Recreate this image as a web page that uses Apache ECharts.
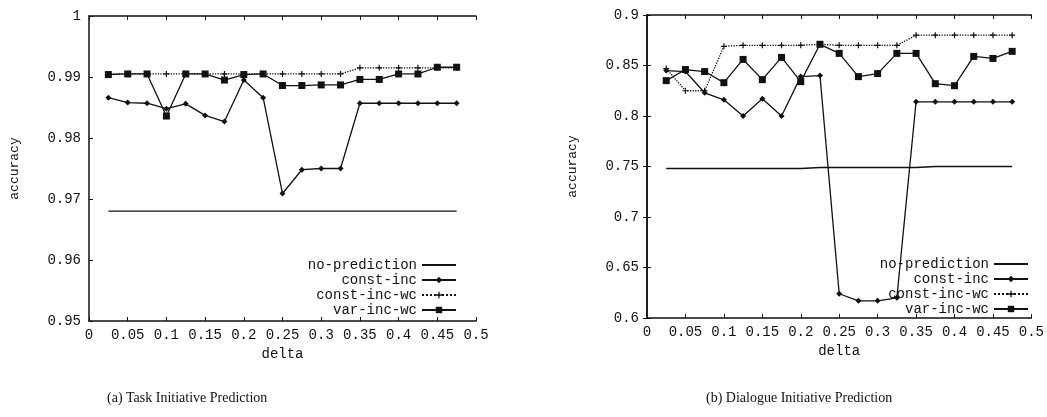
<!DOCTYPE html>
<html>
<head>
<meta charset="utf-8">
<script src="https://cdn.jsdelivr.net/npm/echarts@6/dist/echarts.min.js"></script>
<style>
  html, body { margin: 0; padding: 0; background: #fff; }
  #main { width: 1047px; height: 417px; }
</style>
</head>
<body>
<div id="main"></div>
<script>
// x values (delta)
var delta = [0.025, 0.05, 0.075, 0.1, 0.125, 0.15, 0.175, 0.2, 0.225, 0.25,
             0.275, 0.3, 0.325, 0.35, 0.375, 0.4, 0.425, 0.45, 0.475];

// (a) Task Initiative Prediction
var taskNoPred     = [0.968, 0.968, 0.968, 0.968, 0.968, 0.968, 0.968, 0.968, 0.968, 0.968,
                      0.968, 0.968, 0.968, 0.968, 0.968, 0.968, 0.968, 0.968, 0.968];
var taskConstInc   = [0.9866, 0.9858, 0.9857, 0.9848, 0.9856, 0.9837, 0.9827, 0.9895, 0.9866, 0.9709,
                      0.9748, 0.975, 0.975, 0.9857, 0.9857, 0.9857, 0.9857, 0.9857, 0.9857];
var taskConstIncWc = [0.9905, 0.9905, 0.9905, 0.9905, 0.9905, 0.9905, 0.9905, 0.9905, 0.9905, 0.9905,
                      0.9905, 0.9905, 0.9905, 0.9915, 0.9915, 0.9915, 0.9915, 0.9915, 0.9915];
var taskVarIncWc   = [0.9904, 0.9905, 0.9905, 0.9836, 0.9905, 0.9905, 0.9895, 0.9904, 0.9905, 0.9886,
                      0.9886, 0.9887, 0.9887, 0.9896, 0.9896, 0.9905, 0.9905, 0.9916, 0.9916];

// (b) Dialogue Initiative Prediction
var dlgNoPred     = [0.748, 0.748, 0.748, 0.748, 0.748, 0.748, 0.748, 0.748, 0.749, 0.749,
                     0.749, 0.749, 0.749, 0.749, 0.75, 0.75, 0.75, 0.75, 0.75];
var dlgConstInc   = [0.845, 0.844, 0.823, 0.816, 0.800, 0.817, 0.800, 0.839, 0.840, 0.624,
                     0.617, 0.617, 0.620, 0.814, 0.814, 0.814, 0.814, 0.814, 0.814];
var dlgConstIncWc = [0.847, 0.825, 0.825, 0.869, 0.870, 0.870, 0.870, 0.870, 0.871, 0.870,
                     0.870, 0.870, 0.870, 0.880, 0.880, 0.880, 0.880, 0.880, 0.880];
var dlgVarIncWc   = [0.835, 0.846, 0.844, 0.833, 0.856, 0.836, 0.858, 0.834, 0.871, 0.862,
                     0.839, 0.842, 0.862, 0.862, 0.832, 0.830, 0.859, 0.857, 0.864];

var names = ['no-prediction', 'const-inc', 'const-inc-wc', 'var-inc-wc'];
var captions = ['(a) Task Initiative Prediction', '(b) Dialogue Initiative Prediction'];

var ink = '#111';
var mono = 'Liberation Mono';
var plus = 'path://M4,0H6V4H10V6H6V10H4V6H0V4H4Z';

function pairs(ys) {
    return delta.map(function (x, i) { return [x, ys[i]]; });
}

function fmt(v) { return String(+v.toFixed(2)); }

function xAx(grid, top) {
    return {
        type: 'value', gridIndex: grid, position: top ? 'top' : 'bottom',
        min: 0, max: 0.5, interval: 0.05,
        name: top ? '' : 'delta', nameLocation: 'middle', nameGap: 20,
        nameTextStyle: { fontFamily: mono, fontSize: 14, color: ink },
        axisLine: { show: true, lineStyle: { color: ink, width: 1.5 } },
        axisTick: { show: true, inside: true, length: 4, lineStyle: { color: ink } },
        axisLabel: { show: !top, fontFamily: mono, fontSize: 14, color: ink, margin: 7, formatter: fmt },
        splitLine: { show: false }
    };
}

function yAx(grid, min, max, step, right) {
    return {
        type: 'value', gridIndex: grid, position: right ? 'right' : 'left',
        min: min, max: max, interval: step,
        name: right ? '' : 'accuracy', nameLocation: 'middle', nameGap: 68, nameRotate: 90,
        nameTextStyle: { fontFamily: mono, fontSize: 13, color: ink },
        axisLine: { show: true, lineStyle: { color: ink, width: 1.5 } },
        axisTick: { show: true, inside: true, length: 4, lineStyle: { color: ink } },
        axisLabel: { show: !right, fontFamily: mono, fontSize: 14, color: ink, margin: 8, formatter: fmt },
        splitLine: { show: false }
    };
}

function seriesFor(xi, yi, sets) {
    var styles = [
        { symbol: 'none', type: 'solid', size: 0 },
        { symbol: 'diamond', type: 'solid', size: 6 },
        { symbol: plus, type: 'dotted', size: 6 },
        { symbol: 'rect', type: 'solid', size: 7 }
    ];
    return sets.map(function (ys, i) {
        var s = styles[i];
        return {
            name: names[i], type: 'line', xAxisIndex: xi, yAxisIndex: yi,
            data: pairs(ys), symbol: s.symbol, symbolSize: s.size,
            showSymbol: i !== 0,
            lineStyle: { color: ink, width: 1.3, type: s.type },
            itemStyle: { color: ink },
            animation: false
        };
    });
}

function legendAt(right, top) {
    var items = names.map(function (n, i) {
        // plain line sample for the reference line, no marker
        return i === 0
            ? { name: n, itemStyle: { color: 'rgba(0,0,0,0)', borderWidth: 0 } }
            : { name: n };
    });
    return {
        data: items, orient: 'vertical', right: right, top: top,
        align: 'right', itemWidth: 34, itemHeight: 8, itemGap: 1,
        selectedMode: false,
        textStyle: { fontFamily: mono, fontSize: 14, color: ink, lineHeight: 14 }
    };
}

var chart = echarts.init(document.getElementById('main'), null, { renderer: 'canvas' });

var option = {
    backgroundColor: '#fff',
    animation: false,
    grid: [
        { left: 89, top: 16, width: 387, height: 305 },
        { left: 647, top: 15, width: 388, height: 303 }
    ],
    xAxis: [xAx(0, false), xAx(0, true), xAx(1, false), xAx(1, true)],
    yAxis: [yAx(0, 0.95, 1, 0.01, false), yAx(1, 0.6, 0.9, 0.05, false), yAx(1, 0.6, 0.9, 0.05, true)],
    legend: [legendAt(585, 253), legendAt(13, 252)],
    series: seriesFor(0, 0, [taskNoPred, taskConstInc, taskConstIncWc, taskVarIncWc])
        .concat(seriesFor(2, 1, [dlgNoPred, dlgConstInc, dlgConstIncWc, dlgVarIncWc])),
    graphic: [
        { type: 'text', left: 107, top: 391, style: { text: captions[0], font: '14px "Liberation Serif"', fill: ink } },
        { type: 'text', left: 706, top: 391, style: { text: captions[1], font: '14px "Liberation Serif"', fill: ink } }
    ]
};

chart.setOption(option);
</script>
</body>
</html>
